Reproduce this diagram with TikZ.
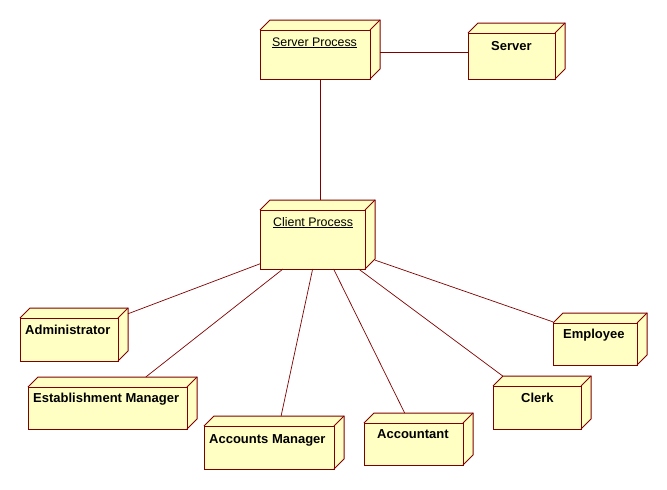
\documentclass[tikz,border=0pt]{standalone}
\usepackage{fontspec}
\setmainfont{Liberation Sans}
\definecolor{nodefillc}{RGB}{255,255,196}
\definecolor{edgec}{RGB}{128,0,0}
\tikzset{
  cubefill/.style={fill=nodefillc},
  cubeline/.style={draw=edgec, line width=1pt, line join=miter},
  conn/.style={draw=edgec, line width=0.7pt},
  boxnode/.style={inner sep=0pt, outer sep=0pt, draw=none, rectangle},
  boldlbl/.style={anchor=base west, inner sep=0pt, font=\fontsize{13}{15}\selectfont\bfseries},
  plainlbl/.style={anchor=base west, inner sep=0pt, font=\fontsize{12.4}{15}\selectfont},
}
% #1 name, #2 x1, #3 y1, #4 x2, #5 y2 of the front face (pixel coords, y down)
\newcommand{\depnode}[5]{%
  \fill[cubefill] (#2,#3) -- (#2+10,#3-10) -- (#4+10,#3-10) -- (#4+10,#5-10) -- (#4,#5) -- (#2,#5) -- cycle;
  \draw[cubeline] (#2,#3) rectangle (#4,#5);
  \draw[cubeline] (#2,#3) -- (#2+10,#3-10) -- (#4+10,#3-10) -- (#4+10,#5-10) -- (#4,#5);
  \draw[cubeline] (#4,#3) -- (#4+10,#3-10);
  \node[boxnode, minimum width={#4+10-#2}, minimum height={#5-#3+10}] (#1) at ({(#2+#4+10)/2},{(#3-10+#5)/2}) {};
}
\begin{document}
\begin{tikzpicture}[x=1pt,y=-1pt]
\useasboundingbox[fill=white] (0,0) rectangle (667,490);
% nodes
\depnode{sp}{260}{30}{370}{79}
\depnode{srv}{468}{33}{555}{79}
\depnode{cp}{260}{210}{365}{269}
\depnode{adm}{20}{318}{118}{361}
\depnode{em}{28}{387}{187}{429}
\depnode{am}{204}{426}{334}{469}
\depnode{acc}{364}{423}{463}{465}
\depnode{clk}{493}{386}{581}{429}
\depnode{emp}{553}{323}{637}{365}
% labels
\node[plainlbl] (sptext) at (272,46) {\underline{Server Process}};
\node[boldlbl] (srvtext) at (491,50) {Server};
\node[plainlbl] (cptext) at (273,226) {\underline{Client Process}};
\node[boldlbl] (admtext) at (25,334) {Administrator};
\node[boldlbl] (emtext) at (33,402) {Establishment Manager};
\node[boldlbl] (amtext) at (209,443) {Accounts Manager};
\node[boldlbl] (acctext) at (377,438) {Accountant};
\node[boldlbl] (clktext) at (521,402) {Clerk};
\node[boldlbl] (emptext) at (563,338) {Employee};
% connectors
\draw[conn] (sp.-3) -- (sp.-3 -| srv.west);
\draw[conn] (sp.south) -- (sp.south |- cp.north);
\draw[conn] (cp.207.2) -- (adm.21);
\draw[conn] (cp.225) -- (em.38.3);
\draw[conn] (cp.262.6) -- (am.75.7);
\draw[conn] (cp.295.6) -- (acc.118.2);
\draw[conn] (cp.320.3) -- (clk.146.3);
\draw[conn] (cp.336.1) -- (emp.160.8);
\end{tikzpicture}
\end{document}
